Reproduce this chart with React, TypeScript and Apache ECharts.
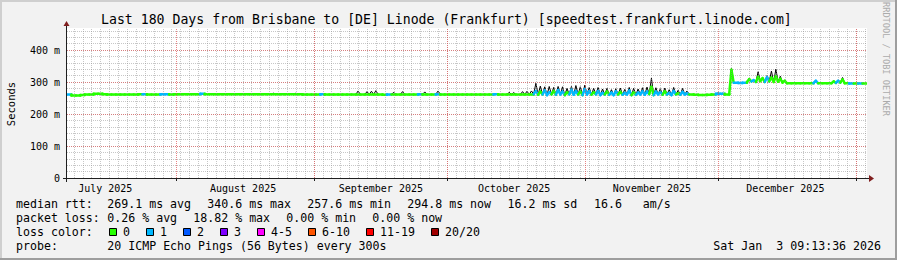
import React, { useEffect, useRef } from 'react';
import * as echarts from 'echarts';

const FONT = '"DejaVu Sans Mono", monospace';
const TITLE = 'Last 180 Days from Brisbane to [DE] Linode (Frankfurt) [speedtest.frankfurt.linode.com]';
const DAYS = 180;
const Y_MAX = 468.75;
const GRID_LEFT = 67;
const GRID_WIDTH = 800;

// x axis: days since Jul 7 2025 09:13:36 (Brisbane)
const monthStartDays = [24.616, 55.616, 85.616, 116.616, 146.616, 177.616];
const monthLabelDays = [8.616, 39.616, 70.616, 100.616, 131.616, 161.616];
const monthLabels = ['July 2025', 'August 2025', 'September 2025', 'October 2025', 'November 2025', 'December 2025'];
const yLabelValues = [0, 100, 200, 300, 400];
const yLabelTexts = ['0', '100 m', '200 m', '300 m', '400 m'];

const lossColors = ['#26ff00', '#00b8ff', '#0059ff', '#7e00ff', '#ff00ff', '#ff5500', '#ff0000', '#a10000'];
const lossLabels = ['0', '1', '2', '3', '4-5', '6-10', '11-19', '20/20'];

// median rtt (ms) at the start of each day
const medianBase = [
  261, 258, 258, 259, 261, 261, 263, 263, 262, 261,
  261, 261, 261, 261, 261, 261, 262, 262, 261, 261,
  261, 262, 262, 261, 262, 262, 262, 262, 262, 262,
  263, 262, 262, 262, 262, 262, 262, 262, 262, 262,
  262, 262, 262, 262, 262, 262, 262, 262, 262, 262,
  262, 262, 262, 261, 261, 261, 261, 262, 261, 261,
  261, 261, 261, 261, 261, 261, 261, 261, 261, 261,
  261, 260, 261, 261, 261, 261, 261, 261, 261, 262,
  261, 261, 261, 262, 261, 261, 261, 261, 261, 261,
  261, 261, 261, 261, 261, 261, 262, 261, 261, 261,
  261, 261, 261, 261, 261, 262, 260, 261, 259, 261,
  260, 261, 259, 261, 260, 261, 259, 261, 260, 261,
  259, 261, 260, 259, 261, 260, 261, 259, 260, 261,
  260, 262, 259, 261, 260, 261, 259, 261, 260, 261,
  261, 260, 259, 259, 260, 261, 263, 263, 261, 262,
  298, 297, 298, 300, 302, 300, 303, 300, 302, 300,
  301, 298, 296, 296, 296, 296, 296, 296, 297, 296,
  296, 296, 296, 297, 298, 296, 295, 295, 295, 295,
];
// loss class (index into lossColors) for each day
const lossBase = [
  1, 0, 0, 0, 0, 0, 0, 0, 0, 0,
  0, 0, 0, 0, 0, 0, 0, 1, 0, 0,
  0, 1, 1, 0, 0, 0, 0, 0, 0, 0,
  1, 0, 0, 0, 0, 0, 0, 0, 0, 0,
  0, 0, 0, 0, 0, 0, 0, 0, 0, 0,
  0, 0, 0, 0, 0, 0, 0, 1, 0, 0,
  0, 0, 0, 0, 0, 0, 0, 0, 0, 0,
  0, 0, 1, 0, 0, 0, 0, 0, 0, 1,
  0, 0, 0, 1, 0, 0, 0, 0, 0, 0,
  0, 0, 0, 0, 0, 0, 1, 0, 0, 0,
  0, 0, 0, 0, 0, 0, 0, 0, 1, 0,
  0, 0, 1, 0, 0, 0, 1, 0, 0, 0,
  1, 0, 0, 1, 0, 0, 0, 1, 0, 0,
  0, 0, 1, 0, 0, 0, 1, 0, 0, 0,
  0, 0, 0, 0, 0, 0, 1, 1, 0, 0,
  1, 1, 1, 0, 0, 0, 0, 0, 0, 0,
  0, 0, 0, 0, 0, 0, 0, 0, 1, 0,
  0, 0, 0, 0, 0, 0, 1, 0, 1, 0,
];
// mid-day median excursions
const peakDays = [
  105, 106, 107, 108, 109, 110, 111, 112, 113, 114, 115, 116, 117,
  118, 119, 120, 121, 122, 123, 124, 125, 126, 127, 128, 129, 130,
  131, 132, 133, 134, 135, 136, 137, 138, 139,
  149, 153, 154, 155, 156, 157, 158, 159, 160, 161,
  168, 172, 173, 174,
];
const medianPeak = [
  272, 270, 274, 268, 272, 275, 270, 268, 276, 272, 270, 278, 271,
  268, 272, 266, 270, 267, 271, 269, 266, 273, 268, 267, 271, 270,
  285, 270, 268, 271, 266, 272, 265, 269, 264,
  338, 309, 306, 316, 312, 315, 314, 318, 310, 304,
  304, 302, 304, 308,
];
const lossPeak = [
  1, 0, 1, 1, 0, 1, 1, 0, 1, 1, 0, 1, 1,
  0, 1, 1, 0, 1, 1, 0, 1, 1, 0, 1, 1, 1,
  0, 1, 1, 0, 1, 1, 0, 1, 1,
  0, 0, 1, 0, 0, 1, 0, 0, 0, 0,
  1, 0, 1, 0,
];
// smoke (upper ping spread) per day
const smokeDays = [
  46, 51, 65, 67, 68, 69, 73, 75, 80, 83, 99, 100, 102, 103, 104,
  105, 106, 107, 108, 109, 110, 111, 112, 113, 114, 115, 116, 117,
  118, 119, 120, 121, 122, 123, 124, 125, 126, 127, 128, 129, 130,
  131, 132, 133, 134, 135, 136, 137, 138, 139,
  146, 147, 149, 155, 157, 158, 159, 160, 174,
];
const smokeTop = [
  265, 265, 272, 270, 271, 273, 268, 270, 269, 272, 268, 267, 270, 271, 272,
  296, 287, 285, 286, 283, 286, 285, 280, 286, 289, 285, 290, 283,
  280, 283, 278, 280, 276, 279, 281, 277, 283, 280, 278, 282, 284,
  312, 282, 279, 281, 276, 283, 274, 280, 272,
  266, 265, 342, 332, 320, 334, 340, 318, 314,
];

const legendRow1: [string, number][] = [
  ['median rtt:', 16], ['269.1 ms avg', 107.3], ['340.6 ms max', 207.3], ['257.6 ms min', 307.3],
  ['294.8 ms now', 407.3], ['16.2 ms sd', 507.5], ['16.6', 594], ['am/s', 642.7],
];
const legendRow2: [string, number][] = [
  ['packet loss:', 16], ['0.26 % avg', 107.3], ['18.82 % max', 193.3], ['0.00 % min', 286.3], ['0.00 % now', 372.3],
];
const legendRow4: [string, number][] = [
  ['probe:', 16], ['20 ICMP Echo Pings (56 Bytes) every 300s', 107.3], ['Sat Jan', 713.3], ['3 09:13:36 2026', 776.3],
];
const lossBoxX = [109, 146, 183, 220, 257, 308, 366, 431];

const MINOR_STYLE = { color: 'rgba(143,143,143,0.5)', width: 1, type: [1, 1] };
const MAJOR_STYLE = { color: 'rgba(222,79,79,0.6)', width: 1, type: [1, 1] };
const MAJOR_V_STYLE = { color: 'rgba(222,79,79,0.7)', width: 1, type: [1, 1] };

// snap a day position to the centre of a pixel column (like rrdtool's grid)
function snapDay(d: number) {
  const px = GRID_LEFT + (d * GRID_WIDTH) / DAYS;
  return ((Math.floor(px) + 0.5 - GRID_LEFT) * DAYS) / GRID_WIDTH;
}

function buildSegments() {
  const segs: number[][] = [];
  for (let i = 0; i < DAYS; i++) {
    const b = medianBase[i];
    const nb = i < DAYS - 1 ? medianBase[i + 1] : b;
    const pi = peakDays.indexOf(i);
    if (pi >= 0) {
      segs.push([i, b, i + 0.5, medianPeak[pi], lossPeak[pi]]);
      segs.push([i + 0.5, medianPeak[pi], i + 1, nb, lossPeak[pi]]);
    } else {
      segs.push([i, b, i + 1, b, lossBase[i]]);
      if (nb !== b && i < DAYS - 1) segs.push([i + 1, b, i + 1, nb, lossBase[i + 1]]);
    }
  }
  return segs;
}

function buildSmoke() {
  return smokeDays.map((d, k) => {
    const b = medianBase[d];
    const nb = d < DAYS - 1 ? medianBase[d + 1] : b;
    return [d, b, smokeTop[k], nb];
  });
}

function text(t: string, x: number, y: number, size: number, extra: any = {}) {
  return {
    type: 'text', x, y, z: 50, silent: true,
    style: { text: t, fill: '#000', fontSize: size, fontFamily: FONT, align: 'left', verticalAlign: 'middle', ...extra },
  };
}

function buildOption() {
  const minorDays: number[] = [];
  for (let d = 1.616; d < DAYS; d += 2) minorDays.push(d);

  const graphics: any[] = [
    { type: 'rect', shape: { x: 0, y: 0, width: 897, height: 2 }, style: { fill: '#cfcfcf' }, z: 60, silent: true },
    { type: 'rect', shape: { x: 0, y: 0, width: 2, height: 260 }, style: { fill: '#cfcfcf' }, z: 60, silent: true },
    { type: 'rect', shape: { x: 0, y: 258, width: 897, height: 2 }, style: { fill: '#9e9e9e' }, z: 61, silent: true },
    { type: 'rect', shape: { x: 895, y: 0, width: 2, height: 260 }, style: { fill: '#9e9e9e' }, z: 61, silent: true },
    // axes
    { type: 'line', shape: { x1: 63, y1: 178.5, x2: 869, y2: 178.5 }, style: { stroke: '#1f1f1f', lineWidth: 1 }, z: 40, silent: true },
    { type: 'line', shape: { x1: 66.5, y1: 182, x2: 66.5, y2: 26 }, style: { stroke: '#1f1f1f', lineWidth: 1 }, z: 40, silent: true },
    { type: 'polygon', shape: { points: [[869, 175], [874, 178.5], [869, 182]] }, style: { fill: '#801f1f' }, z: 41, silent: true },
    { type: 'polygon', shape: { points: [[63.5, 26], [66.5, 21], [69.5, 26]] }, style: { fill: '#801f1f' }, z: 41, silent: true },
    text(TITLE, 446.4, 19.5, 13.2, { align: 'center' }),
    { type: 'text', x: 10.5, y: 104, rotation: Math.PI / 2, z: 50, silent: true,
      style: { text: 'Seconds', fill: '#000', fontSize: 10.5, fontFamily: FONT, align: 'center', verticalAlign: 'middle' } },
    { type: 'text', x: 886, y: 59, rotation: -Math.PI / 2, z: 50, silent: true,
      style: { text: 'RRDTOOL / TOBI OETIKER', fill: '#ababab', fontSize: 8.6, fontFamily: FONT, align: 'center', verticalAlign: 'middle' } },
  ];
  legendRow1.forEach(([t, x]) => graphics.push(text(t, x, 204.3, 11.6)));
  legendRow2.forEach(([t, x]) => graphics.push(text(t, x, 218.3, 11.6)));
  graphics.push(text('loss color:', 16, 232.3, 11.6));
  lossLabels.forEach((lab, i) => {
    graphics.push({ type: 'rect', shape: { x: lossBoxX[i] + 0.5, y: 228.5, width: 7, height: 7 },
      style: { fill: lossColors[i], stroke: '#000', lineWidth: 1 }, z: 50, silent: true });
    graphics.push(text(lab, lossBoxX[i] + 14, 232.3, 11.6));
  });
  legendRow4.forEach(([t, x]) => graphics.push(text(t, x, 246.3, 11.6)));

  const vLines = [
    ...minorDays.map((d) => ({ xAxis: snapDay(d), lineStyle: MINOR_STYLE })),
    ...monthStartDays.map((d) => ({ xAxis: snapDay(d), lineStyle: MAJOR_V_STYLE })),
  ];

  return {
    animation: false,
    backgroundColor: '#f2f2f2',
    grid: { left: GRID_LEFT, top: 28, width: GRID_WIDTH, height: 150, show: true, backgroundColor: '#ffffff', borderWidth: 0, containLabel: false, outerBoundsMode: 'none' },
    xAxis: [
      { type: 'value', min: 0, max: DAYS, position: 'bottom',
        axisLine: { show: false },
        axisTick: { show: true, customValues: monthStartDays, length: 3, lineStyle: { color: '#1f1f1f', width: 1 } },
        axisLabel: {
          show: true, customValues: monthLabelDays, margin: 5, fontSize: 10, fontFamily: FONT, color: '#000',
          formatter: (v: number) => { const i = monthLabelDays.findIndex((d) => Math.abs(d - v) < 1e-6); return i >= 0 ? monthLabels[i] : ''; },
        },
        splitLine: { show: false } },
    ],
    yAxis: [
      { type: 'value', min: 0, max: Y_MAX, interval: 20, position: 'left',
        axisLine: { show: false }, axisTick: { show: false }, axisLabel: { show: false },
        splitLine: { show: true, showMinLine: false, showMaxLine: false, lineStyle: MINOR_STYLE } },
      { type: 'value', min: 0, max: Y_MAX, interval: 100, position: 'left', offset: 0,
        axisLine: { show: false }, axisTick: { show: false },
        axisLabel: {
          show: true, margin: 7, fontSize: 10, fontFamily: FONT, color: '#000',
          formatter: (v: number) => { const i = yLabelValues.indexOf(v); return i >= 0 ? yLabelTexts[i] : ''; },
        },
        splitLine: { show: true, showMinLine: false, showMaxLine: false, lineStyle: MAJOR_STYLE } },
    ],
    graphic: graphics,
    series: [
      {
        type: 'line', name: 'grid', xAxisIndex: 0, yAxisIndex: 0, silent: true,
        data: [[0, 0]], showSymbol: false, lineStyle: { opacity: 0 },
        markLine: { silent: true, symbol: ['none', 'none'], label: { show: false }, animation: false, data: vLines },
      },
      {
        type: 'custom', name: 'smoke', xAxisIndex: 0, yAxisIndex: 1, clip: true, silent: true,
        data: buildSmoke(),
        encode: { x: [0], y: [1, 2, 3] },
        renderItem: (params: any, api: any) => {
          const d = api.value(0);
          const p0 = api.coord([d, api.value(1)]);
          const p1 = api.coord([d + 0.5, api.value(2)]);
          const p2 = api.coord([d + 1, api.value(3)]);
          return { type: 'polyline', shape: { points: [p0, p1, p2] }, style: { stroke: '#000', fill: null, lineWidth: 1 } };
        },
      },
      {
        type: 'custom', name: 'median', xAxisIndex: 0, yAxisIndex: 1, clip: true, silent: true,
        data: buildSegments(),
        encode: { x: [0, 2], y: [1, 3] },
        renderItem: (params: any, api: any) => {
          const p0 = api.coord([api.value(0), api.value(1)]);
          const p1 = api.coord([api.value(2), api.value(3)]);
          return { type: 'line', shape: { x1: p0[0], y1: p0[1], x2: p1[0], y2: p1[1] },
            style: { stroke: lossColors[api.value(4)], lineWidth: 2.5, lineCap: 'round' } };
        },
      },
    ],
  };
}

export default function App() {
  const ref = useRef<HTMLDivElement>(null);
  useEffect(() => {
    if (!ref.current) return;
    const chart = echarts.init(ref.current, undefined, { renderer: 'svg', width: 897, height: 260 });
    chart.setOption(buildOption() as any);
    return () => chart.dispose();
  }, []);
  return <div ref={ref} style={{ position: 'fixed', left: 0, top: 0, width: 897, height: 260 }} />;
}
